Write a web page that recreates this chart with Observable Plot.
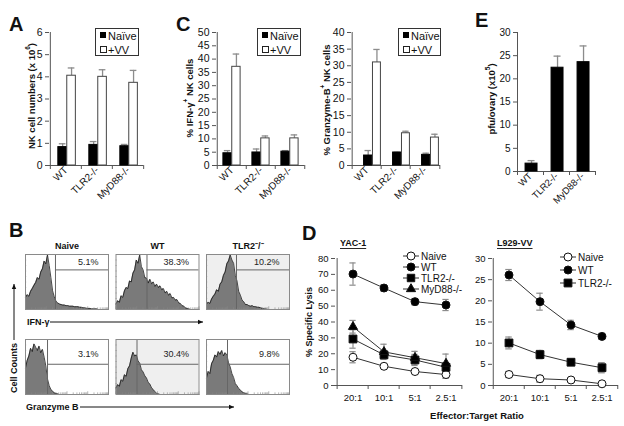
<!DOCTYPE html>
<html><head><meta charset="utf-8">
<script src="https://cdn.jsdelivr.net/npm/d3@7"></script>
<script src="https://cdn.jsdelivr.net/npm/@observablehq/plot@0.6"></script>
<style>
html,body{margin:0;padding:0;background:#fff;}
#fig{position:relative;width:624px;height:426px;overflow:hidden;background:#fff;font-family:"Liberation Sans",Arial,Helvetica,sans-serif;}
#fig svg{overflow:visible;}
</style></head><body><div id="fig"></div>
<script>
// ---------- DATA ----------
const genotypes = ["WT", "TLR2-/-", "MyD88-/-"];
// A: NK cell numbers (x10^6)
const nkNaive = [0.83, 0.93, 0.87];
const nkNaiveTop = [0.98, 1.08, 0.95];
const nkVV = [4.05, 4.00, 3.73];
const nkVVTop = [4.40, 4.32, 4.29];
const nkTicks = [0, 1, 2, 3, 4, 5, 6];
// C: % IFN-g+ NK cells
const ifnNaive = [4.6, 4.9, 5.2];
const ifnNaiveTop = [5.6, 6.2, 5.6];
const ifnVV = [37.1, 10.2, 10.2];
const ifnVVTop = [41.9, 11.1, 11.5];
const ifnTicks = [0, 5, 10, 15, 20, 25, 30, 35, 40, 45, 50];
// C: % Granzyme-B+ NK cells
const gzbNaive = [3.0, 3.9, 3.2];
const gzbNaiveTop = [4.5, 4.0, 3.7];
const gzbVV = [31.0, 9.7, 8.4];
const gzbVVTop = [34.9, 10.3, 9.4];
const gzbTicks = [0, 5, 10, 15, 20, 25, 30, 35, 40];
// E: pfu/ovary (x10^5)
const pfu = [1.7, 22.4, 23.6];
const pfuTop = [2.35, 24.9, 27.1];
const pfuTicks = [0, 5, 10, 15, 20, 25, 30];
// D: % specific lysis
const ratios = ["20:1", "10:1", "5:1", "2.5:1"];
const yacNaive = [17.8, 12.1, 8.8, 6.9];
const yacNaiveErr = [3.5, 1.2, 1.0, 2.4];
const yacWT = [70.2, 61.4, 52.8, 50.7];
const yacWTErr = [7.0, 2.0, 2.0, 3.5];
const yacTLR2 = [29.3, 19.3, 16.1, 11.5];
const yacTLR2Err = [5.8, 2.2, 3.5, 2.8];
const yacMyD88 = [37.0, 21.2, 17.5, 13.8];
const yacMyD88Err = [4.0, 4.8, 4.0, 6.0];
const yacTicks = [0, 10, 20, 30, 40, 50, 60, 70, 80];
const lvNaive = [2.6, 1.6, 1.3, 0.4];
const lvNaiveErr = [0.7, 0.8, 0.3, 0.2];
const lvWT = [26.1, 19.8, 14.3, 11.6];
const lvWTErr = [1.3, 2.0, 1.1, 0.7];
const lvTLR2 = [10.05, 7.3, 5.5, 4.2];
const lvTLR2Err = [1.4, 1.0, 0.5, 1.2];
const lvTicks = [0, 5, 10, 15, 20, 25, 30];
// B: flow cytometry histograms (relative cell counts per bin, % of panel height)
const histCols = ["Naive", "WT", "TLR2"];
const histColTitles = ["Naive", "WT", "TLR2\u207B/\u207B"];
const histRows = ["IFN", "GzmB"];
const histNaiveIFN = [22,27,24,33,38,44,49,58,55,68,74,88,83,99,80,58,34,23,15,12,10,9,8,8,7,7,6,6,6,5,5,5,4,4,3,3,2,2,2,1,1,1,1,0,0,0,0,0,0,0];
const histWTIFN = [10,16,13,25,22,34,40,38,52,50,66,72,90,84,99,78,72,58,57,48,55,47,50,42,46,40,43,36,38,30,33,26,29,21,22,17,18,12,11,7,6,3,2,1,0,0,0,0,0,0];
const histTLR2IFN = [10,13,11,19,24,28,36,33,46,50,62,68,83,88,99,90,84,62,52,33,26,17,14,9,9,7,6,7,5,5,4,4,3,2,1,1,0,0,0,0,0,0,0,0,0,0,0,0,0,0];
const histNaiveGzB = [48,62,70,84,78,92,86,80,88,76,82,68,52,28,16,9,6,3,2,1,0,0,0,0,0,0,0,0,0,0,0,0,0,0,0,0,0,0,0,0,0,0,0,0,0,0,0,0,0,0];
const histWTGzB = [12,18,15,27,24,36,33,47,52,66,77,70,72,61,57,45,41,34,30,22,19,12,9,5,2,1,0,0,0,0,0,0,0,0,0,0,0,0,0,0,0,0,0,0,0,0,0,0,0,0];
const histTLR2GzB = [30,42,38,56,62,72,68,78,73,80,70,76,72,58,50,38,31,20,16,11,8,5,3,2,1,0,0,0,0,0,0,0,0,0,0,0,0,0,0,0,0,0,0,0,0,0,0,0,0,0];
const gatePct = ["5.1%", "38.3%", "10.2%", "3.1%", "30.4%", "9.8%"];
const gateBin = [17.7, 18.3, 17.7, 13.0, 12.4, 12.4];

// ---------- HELPERS ----------
const FONT = "'Liberation Sans', Arial, Helvetica, sans-serif";
const AX = "#555";
const ERR = "#8c8c8c";
const fig = document.getElementById("fig");
function place(el, left, top) {
  const d = document.createElement("div");
  d.style.position = "absolute"; d.style.left = left + "px"; d.style.top = top + "px";
  d.appendChild(el); fig.appendChild(d);
}
function st(fs) { return {fontFamily: FONT, fontSize: fs + "px", background: "none", color: "#111", overflow: "visible"}; }
const plain = d => String(d);

function barChart(c) {
  const n = genotypes.length;
  const bw = (c.width - c.mL - c.mR) / n;
  const marks = [
    Plot.ruleY([0], {stroke: AX}),
    Plot.ruleX([genotypes[0]], {dx: -bw / 2, stroke: AX}),
    Plot.axisY({ticks: c.yTicks, tickFormat: plain, tickSize: 4, tickPadding: 3, label: null, stroke: AX, fill: "#111"}),
    Plot.axisX({tickSize: 4, tickFormat: () => "", dx: -bw / 2, label: null, stroke: AX}),
    Plot.axisX({ticks: [genotypes[n - 1]], tickSize: 4, tickFormat: () => "", dx: bw / 2, label: null, stroke: AX}),
    Plot.axisX({tickSize: 0, tickPadding: 3, tickRotate: -45, label: null, fontSize: c.xfs, fill: "#111"})
  ];
  for (const s of c.series) {
    const rows = genotypes.map((g, i) => ({g, v: s.values[i], t: s.tops[i]}));
    const cx = (s.f1 + s.f2) / 2 * bw;
    marks.push(Plot.ruleX(rows, {x: "g", y1: "v", y2: "t", dx: cx - bw / 2, stroke: ERR, strokeWidth: 1.3}));
    marks.push(Plot.tickY(rows, {x: "g", y: "t", insetLeft: cx - 3.5, insetRight: bw - cx - 3.5, stroke: ERR, strokeWidth: 1.3}));
    marks.push(Plot.barY(rows, {x: "g", y: "v", insetLeft: s.f1 * bw, insetRight: (1 - s.f2) * bw, fill: s.fill, stroke: s.stroke, strokeWidth: 1}));
  }
  return Plot.plot({
    width: c.width, height: c.height, marginLeft: c.mL, marginRight: c.mR, marginTop: c.mT, marginBottom: c.mB,
    x: {domain: genotypes, padding: 0}, y: {domain: c.yDomain},
    style: st(c.fs), marks
  });
}

function lineChart(c) {
  const n = ratios.length;
  const bw = (c.width - c.mL - c.mR) / n;
  const marks = [
    Plot.ruleY([0], {stroke: AX}),
    Plot.ruleX([ratios[0]], {dx: -bw / 2, stroke: AX}),
    Plot.axisY({ticks: c.yTicks, tickFormat: plain, tickSize: 4, tickPadding: 3, label: null, stroke: AX, fill: "#111"}),
    Plot.axisX({tickSize: 4, tickFormat: () => "", dx: -bw / 2, label: null, stroke: AX}),
    Plot.axisX({ticks: [ratios[n - 1]], tickSize: 4, tickFormat: () => "", dx: bw / 2, label: null, stroke: AX}),
    Plot.axisX({tickSize: 0, tickPadding: 9, label: null, fill: "#111"})
  ];
  const all = c.series.map(s => ({s, rows: ratios.map((r, i) => ({r, v: s.v[i], lo: s.v[i] - s.e[i], hi: s.v[i] + s.e[i]}))}));
  for (const {rows} of all) {
    marks.push(Plot.ruleX(rows, {x: "r", y1: "lo", y2: "hi", stroke: ERR, strokeWidth: 1.2}));
    marks.push(Plot.tickY(rows, {x: "r", y: "lo", insetLeft: bw / 2 - 3.5, insetRight: bw / 2 - 3.5, stroke: ERR, strokeWidth: 1.2}));
    marks.push(Plot.tickY(rows, {x: "r", y: "hi", insetLeft: bw / 2 - 3.5, insetRight: bw / 2 - 3.5, stroke: ERR, strokeWidth: 1.2}));
  }
  for (const {rows} of all) marks.push(Plot.lineY(rows, {x: "r", y: "v", stroke: "#333", strokeWidth: 1}));
  for (const {s, rows} of all) marks.push(Plot.dot(rows, {x: "r", y: "v", symbol: s.symbol, r: s.r, fill: s.fill, stroke: "#111", strokeWidth: 1}));
  return Plot.plot({
    width: c.width, height: c.height, marginLeft: c.mL, marginRight: c.mR, marginTop: c.mT, marginBottom: c.mB,
    x: {domain: ratios, padding: 0}, y: {domain: c.yDomain},
    style: st(c.fs), marks
  });
}

// ---------- PANEL A ----------
place(barChart({width: 160, height: 200, mL: 49, mR: 17, mT: 32, mB: 35, yDomain: [0, 6], yTicks: nkTicks, fs: 10.5, xfs: 10,
  series: [
    {values: nkNaive, tops: nkNaiveTop, f1: 0.25, f2: 0.535, fill: "#000", stroke: "#000"},
    {values: nkVV, tops: nkVVTop, f1: 0.535, f2: 0.82, fill: "#fff", stroke: "#444"}
  ]}), 0, 0);

// ---------- PANEL C ----------
place(barChart({width: 150, height: 200, mL: 56, mR: 5.5, mT: 32, mB: 35, yDomain: [0, 50], yTicks: ifnTicks, fs: 10.5, xfs: 10,
  series: [
    {values: ifnNaive, tops: ifnNaiveTop, f1: 0.2, f2: 0.5, fill: "#000", stroke: "#000"},
    {values: ifnVV, tops: ifnVVTop, f1: 0.5, f2: 0.8, fill: "#fff", stroke: "#444"}
  ]}), 160, 0);
place(barChart({width: 140, height: 200, mL: 41, mR: 10, mT: 32, mB: 35, yDomain: [0, 40], yTicks: gzbTicks, fs: 10.5, xfs: 10,
  series: [
    {values: gzbNaive, tops: gzbNaiveTop, f1: 0.39, f2: 0.69, fill: "#000", stroke: "#000"},
    {values: gzbVV, tops: gzbVVTop, f1: 0.69, f2: 0.98, fill: "#fff", stroke: "#444"}
  ]}), 310, 0);

// ---------- PANEL E ----------
place(barChart({width: 174, height: 205, mL: 67, mR: 29, mT: 32, mB: 34, yDomain: [0, 30], yTicks: pfuTicks, fs: 10, xfs: 9.5,
  series: [
    {values: pfu, tops: pfuTop, f1: 0.31, f2: 0.77, fill: "#000", stroke: "#000"}
  ]}), 450, 0);

// ---------- PANEL D ----------
place(lineChart({width: 175, height: 195, mL: 35, mR: 13, mT: 28, mB: 40, yDomain: [0, 80], yTicks: yacTicks, fs: 9.5,
  series: [
    {v: yacNaive, e: yacNaiveErr, symbol: "circle", r: 4, fill: "#fff"},
    {v: yacWT, e: yacWTErr, symbol: "circle", r: 4, fill: "#000"},
    {v: yacTLR2, e: yacTLR2Err, symbol: "square", r: 4.4, fill: "#000"},
    {v: yacMyD88, e: yacMyD88Err, symbol: "triangle", r: 3.4, fill: "#000"}
  ]}), 300, 230);
place(lineChart({width: 159, height: 195, mL: 27, mR: 6, mT: 28, mB: 40, yDomain: [0, 30], yTicks: lvTicks, fs: 9.5,
  series: [
    {v: lvNaive, e: lvNaiveErr, symbol: "circle", r: 4, fill: "#fff"},
    {v: lvWT, e: lvWTErr, symbol: "circle", r: 4, fill: "#000"},
    {v: lvTLR2, e: lvTLR2Err, symbol: "square", r: 4.4, fill: "#000"}
  ]}), 465, 230);

// ---------- PANEL B ----------
const hists = [
  {row: "IFN", col: "Naive", counts: histNaiveIFN},
  {row: "IFN", col: "WT", counts: histWTIFN},
  {row: "IFN", col: "TLR2", counts: histTLR2IFN},
  {row: "GzmB", col: "Naive", counts: histNaiveGzB},
  {row: "GzmB", col: "WT", counts: histWTGzB},
  {row: "GzmB", col: "TLR2", counts: histTLR2GzB}
];
const NB = histNaiveIFN.length;
const histData = hists.flatMap(h => h.counts.map((c, i) => ({row: h.row, col: h.col, bin: i, count: c})));
const gates = hists.map((h, i) => ({row: h.row, col: h.col, gate: gateBin[i], pct: gatePct[i],
  level: h.row === "IFN" ? 72 : 55, ty: h.row === "IFN" ? 86 : 73}));
const shaded = [{row: "IFN", col: "TLR2"}, {row: "GzmB", col: "WT"}];
const decadeLogs = [0, 0.301, 0.477, 0.602, 0.699, 0.778, 0.845, 0.903, 0.954];
const decade = (NB - 1) / 4;
const minorTicks = [0, 1, 2, 3].flatMap(d => decadeLogs.map((l, k) => ({x: (d + l) * decade, len: k === 0 ? 5 : 3}))).concat([{x: NB - 1, len: 5}]);
const leftTicks = [10, 20, 30, 40, 50, 60, 70, 80, 90];
place(Plot.plot({
  width: 294, height: 180, marginLeft: 25, marginRight: 5, marginTop: 35, marginBottom: 5,
  fx: {domain: histCols, paddingInner: 0.083, paddingOuter: 0, axis: null, round: false},
  fy: {domain: histRows, paddingInner: 0.353, paddingOuter: 0, axis: null, round: false},
  x: {domain: [0, NB - 1], axis: null},
  y: {domain: [0, 100], axis: null},
  style: st(9),
  marks: [
    Plot.rect(shaded, {fx: "col", fy: "row", x1: () => 0, x2: () => NB - 1, y1: () => 0, y2: () => 100, fill: "#efefef"}),
    Plot.areaY(histData, {fx: "col", fy: "row", x: "bin", y: "count", fill: "#7a7a7a"}),
    Plot.lineY(histData, {fx: "col", fy: "row", x: "bin", y: "count", stroke: "#1a1a1a", strokeWidth: 0.8}),
    Plot.ruleX(minorTicks, {x: "x", y1: () => 0, y2: "len", stroke: "#888", strokeWidth: 0.6}),
    Plot.ruleY(leftTicks, {y: d => d, x1: () => 0, x2: () => 0.7, stroke: "#888", strokeWidth: 0.6}),
    Plot.ruleX(gates, {fx: "col", fy: "row", x: "gate", stroke: "#666"}),
    Plot.ruleY(gates, {fx: "col", fy: "row", y: "level", x1: "gate", x2: () => NB - 1, stroke: "#666"}),
    Plot.text(gates, {fx: "col", fy: "row", x: () => NB - 1, y: "ty", text: "pct", textAnchor: "end", dx: -10, fontSize: 9, fill: "#222"}),
    Plot.frame({stroke: "#8a8a8a"}),
    Plot.axisFx({anchor: "top", tickSize: 0, tickPadding: 6, label: null, fontWeight: "bold", fontSize: 9,
      tickFormat: d => histColTitles[histCols.indexOf(d)]})
  ]
}), 0, 219);

// ---------- OVERLAY (letters, labels, legends) ----------
const ov = d3.select(fig).append("svg").attr("width", 624).attr("height", 426)
  .style("position", "absolute").style("left", 0).style("top", 0)
  .attr("font-family", FONT);
function T(x, y, parts, o = {}) {
  const {size = 9, weight = "bold", anchor = "start", rotate = 0, fill = "#111", deco = null, vb = "central"} = o;
  const t = ov.append("text").attr("transform", `translate(${x},${y}) rotate(${rotate})`)
    .attr("font-size", size).attr("font-weight", weight).attr("text-anchor", anchor)
    .attr("fill", fill).attr("dominant-baseline", vb);
  if (deco) t.attr("text-decoration", deco);
  let up = false;
  for (const p of [].concat(parts)) {
    if (typeof p === "string") {
      const ts = t.append("tspan").text(p);
      if (up) { ts.attr("dy", size * 0.4); up = false; }
    } else {
      t.append("tspan").attr("font-size", size * 0.68).attr("dy", -size * 0.4).text(p.sup);
      up = true;
    }
  }
  return t;
}
// panel letters
T(9, 31, "A", {size: 20, vb: "alphabetic"});
T(176, 31, "C", {size: 20, vb: "alphabetic"});
T(475, 27, "E", {size: 20, vb: "alphabetic"});
T(9, 237, "B", {size: 20, vb: "alphabetic"});
T(302, 240, "D", {size: 20, vb: "alphabetic"});
// y labels
T(31, 96, ["NK cell numbers (x 10", {sup: "6"}, ")"], {size: 9.5, anchor: "middle", rotate: -90});
T(189, 98, ["% IFN-\u03B3", {sup: "+"}, " NK cells"], {size: 9.5, anchor: "middle", rotate: -90});
T(326, 100, ["% Granzyme-B", {sup: "+"}, " NK cells"], {size: 9.5, anchor: "middle", rotate: -90});
T(491, 99, ["pfu/ovary (x10", {sup: "5"}, ")"], {size: 9.5, anchor: "middle", rotate: -90});
T(309, 322, "% Specific Lysis", {size: 9, anchor: "middle", rotate: -90});
T(477, 415, "Effector:Target Ratio", {size: 9.5, anchor: "middle"});
T(340, 243, "YAC-1", {size: 9, deco: "underline"});
T(497, 243, "L929-VV", {size: 9, deco: "underline"});
// bar legends
function barLegend(bx, by, bw) {
  ov.append("rect").attr("x", bx + 0.5).attr("y", by + 0.5).attr("width", bw).attr("height", 27)
    .attr("fill", "#fff").attr("stroke", "#333");
  ov.append("rect").attr("x", bx + 5).attr("y", by + 4).attr("width", 6).attr("height", 6).attr("fill", "#000");
  ov.append("rect").attr("x", bx + 5.5).attr("y", by + 18.5).attr("width", 6).attr("height", 6).attr("fill", "#fff").attr("stroke", "#222");
  T(bx + 13, by + 7.5, "Na\u00EFve", {size: 11, weight: "normal"});
  T(bx + 13, by + 21.5, "+VV", {size: 11, weight: "normal"});
}
barLegend(95, 28, 43);
barLegend(257, 28, 43);
barLegend(398, 28, 42);
// line legends
const sym = {circle: d3.symbolCircle, square: d3.symbolSquare, triangle: d3.symbolTriangle};
function lineLegend(x0, items) {
  for (const it of items) {
    ov.append("line").attr("x1", x0).attr("x2", x0 + 16).attr("y1", it.y).attr("y2", it.y).attr("stroke", "#333");
    ov.append("path").attr("d", d3.symbol(sym[it.symbol], Math.PI * it.r * it.r)())
      .attr("transform", `translate(${x0 + 8},${it.y})`).attr("fill", it.fill).attr("stroke", "#111");
    T(x0 + 18, it.y, it.label, {size: 10, weight: "normal"});
  }
}
lineLegend(403, [
  {y: 256, symbol: "circle", r: 4, fill: "#fff", label: "Naive"},
  {y: 267, symbol: "circle", r: 4, fill: "#000", label: "WT"},
  {y: 278, symbol: "square", r: 4.2, fill: "#000", label: "TLR2-/-"},
  {y: 289, symbol: "triangle", r: 3.4, fill: "#000", label: "MyD88-/-"}
]);
lineLegend(560, [
  {y: 257, symbol: "circle", r: 4, fill: "#fff", label: "Naive"},
  {y: 270, symbol: "circle", r: 4, fill: "#000", label: "WT"},
  {y: 283, symbol: "square", r: 4.4, fill: "#000", label: "TLR2-/-"}
]);
// B axis annotations
T(27, 322, "IFN-\u03B3", {size: 9});
T(26, 407, "Granzyme B", {size: 9});
T(14, 368, "Cell Counts", {size: 9, anchor: "middle", rotate: -90});
function arrow(x1, y1, x2, y2) {
  ov.append("line").attr("x1", x1).attr("y1", y1).attr("x2", x2).attr("y2", y2).attr("stroke", "#111").attr("stroke-width", 1);
  const a = Math.atan2(y2 - y1, x2 - x1), L = 5, W = 2.2;
  const p = [[x2, y2], [x2 - L * Math.cos(a) + W * Math.sin(a), y2 - L * Math.sin(a) - W * Math.cos(a)],
             [x2 - L * Math.cos(a) - W * Math.sin(a), y2 - L * Math.sin(a) + W * Math.cos(a)]];
  ov.append("polygon").attr("points", p.map(q => q.join(",")).join(" ")).attr("fill", "#111");
}
arrow(50, 322, 203, 322);
arrow(80, 407, 234, 407);
arrow(14, 340, 14, 284);
</script></body></html>
